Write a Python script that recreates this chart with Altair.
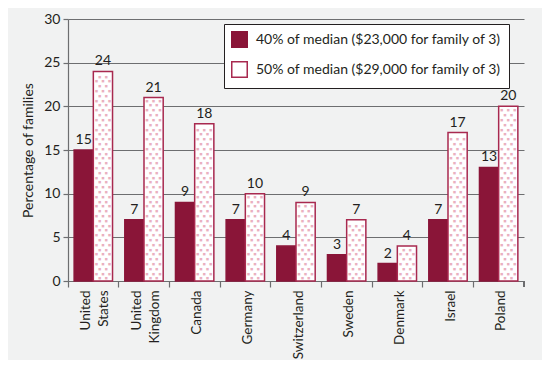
import altair as alt
import pandas as pd

countries = ["United States", "United Kingdom", "Canada", "Germany", "Switzerland",
             "Sweden", "Denmark", "Israel", "Poland"]
v40 = [15, 7, 9, 7, 4, 3, 2, 7, 13]
v50 = [24, 21, 18, 10, 9, 7, 4, 17, 20]
series = ["40% of median ($23,000 for family of 3)", "50% of median ($29,000 for family of 3)"]
y_title = "Percentage of families"

rows = []
for c, a, b in zip(countries, v40, v50):
    rows.append({"country": c, "series": series[0], "value": a})
    rows.append({"country": c, "series": series[1], "value": b})
df = pd.DataFrame(rows)

# dot texture inside the 50% bars (rows of dots derived from each bar's value)
dots = []
for c, b in zip(countries, v50):
    k = 0
    while 0.3 + k * 0.55 < b - 0.25:
        dots.append({"country": c, "series": series[1], "y": 0.3 + k * 0.55, "row": k % 2})
        k += 1
dots_df = pd.DataFrame(dots)

W, H = 456, 262
FONT = "Lato"
TXT = "#231f20"
GRID = "#6d6e70"
DARK = "#8a1538"
LIGHT = "#ffffff"
EDGE = "#a8294f"
DOT = "#eab0c0"

x_enc = alt.X("country:N", sort=countries, title=None,
              scale=alt.Scale(paddingInner=0, paddingOuter=0),
              axis=alt.Axis(bandPosition=0, labelAngle=270, labelAlign="right",
                            labelBaseline="middle",
                            labelOffset={"condition": {"test": "indexof(datum.label, ' ') >= 0",
                                                       "value": -7},
                                         "value": 2.5},
                            labelExpr="split(datum.label, ' ')",
                            labelFontSize=13.5, labelFont=FONT, labelColor=TXT,
                            labelPadding=3, tickSize=6, tickColor=GRID,
                            domainColor=GRID, domainWidth=1.2, tickWidth=1.2,
                            labelLineHeight=18))
xoff = alt.XOffset("series:N", sort=series,
                   scale=alt.Scale(domain=series, paddingInner=0, paddingOuter=0.32))
y_enc = alt.Y("value:Q", title=y_title,
              scale=alt.Scale(domain=[0, 30], nice=False),
              axis=alt.Axis(values=[0, 5, 10, 15, 20, 25, 30], grid=True,
                            gridColor=GRID, gridWidth=1.2, gridOpacity=1,
                            domainColor=GRID, domainWidth=1.2,
                            tickColor=GRID, tickWidth=1.2, tickSize=5,
                            labelFontSize=14, labelFont=FONT, labelColor=TXT,
                            labelPadding=3, titleFontSize=14, titleFont=FONT,
                            titleFontWeight="normal", titleColor=TXT,
                            titlePadding=8))

bars = alt.Chart(df).mark_bar(strokeWidth=1.5).encode(
    x=x_enc, xOffset=xoff, y=y_enc,
    fill=alt.Fill("series:N", sort=series,
                  scale=alt.Scale(domain=series, range=[DARK, LIGHT]),
                  legend=alt.Legend(title=None, orient="none", legendX=156, legendY=5,
                                    fillColor="white", strokeColor="#231f20",
                                    padding=7, symbolType="square", symbolSize=240,
                                    symbolStrokeWidth=1.5, labelFontSize=14,
                                    labelFont=FONT, labelColor=TXT, labelLimit=400,
                                    rowPadding=7, labelOffset=8)),
    stroke=alt.Stroke("series:N", sort=series,
                      scale=alt.Scale(domain=series, range=[DARK, EDGE]),
                      legend=None),
)

dot_layers = []
for dxv, row in [(-6.5, 1), (-3.2, 0), (0, 1), (3.2, 0), (6.5, 1)]:
    dot_layers.append(
        alt.Chart(dots_df).transform_filter(alt.datum.row == row)
        .mark_text(text="■", fontSize=3.2, color=DOT, dx=dxv, baseline="middle",
                   align="center", font="DejaVu Sans")
        .encode(x=alt.X("country:N", sort=countries), xOffset=xoff, y=alt.Y("y:Q"))
    )

labels = alt.Chart(df).mark_text(baseline="bottom", dy=-3, fontSize=14, font=FONT,
                                 color=TXT).encode(
    x=alt.X("country:N", sort=countries), xOffset=xoff,
    y=alt.Y("value:Q"), text=alt.Text("value:Q"))

end_tick = alt.Chart(df).mark_rule(color=GRID, strokeWidth=1.2).encode(
    x=alt.value(W), y=alt.value(H), y2=alt.value(H + 6))

chart = alt.layer(bars, *dot_layers, labels, end_tick).properties(
    width=W, height=H,
    autosize=alt.AutoSizeParams(type="none"),
    padding={"left": 60, "top": 11, "right": 18, "bottom": 79},
    background="#f1f2f2",
).configure_view(stroke=None)

chart.save("out.html", embed_options={"renderer": "svg", "actions": False})
